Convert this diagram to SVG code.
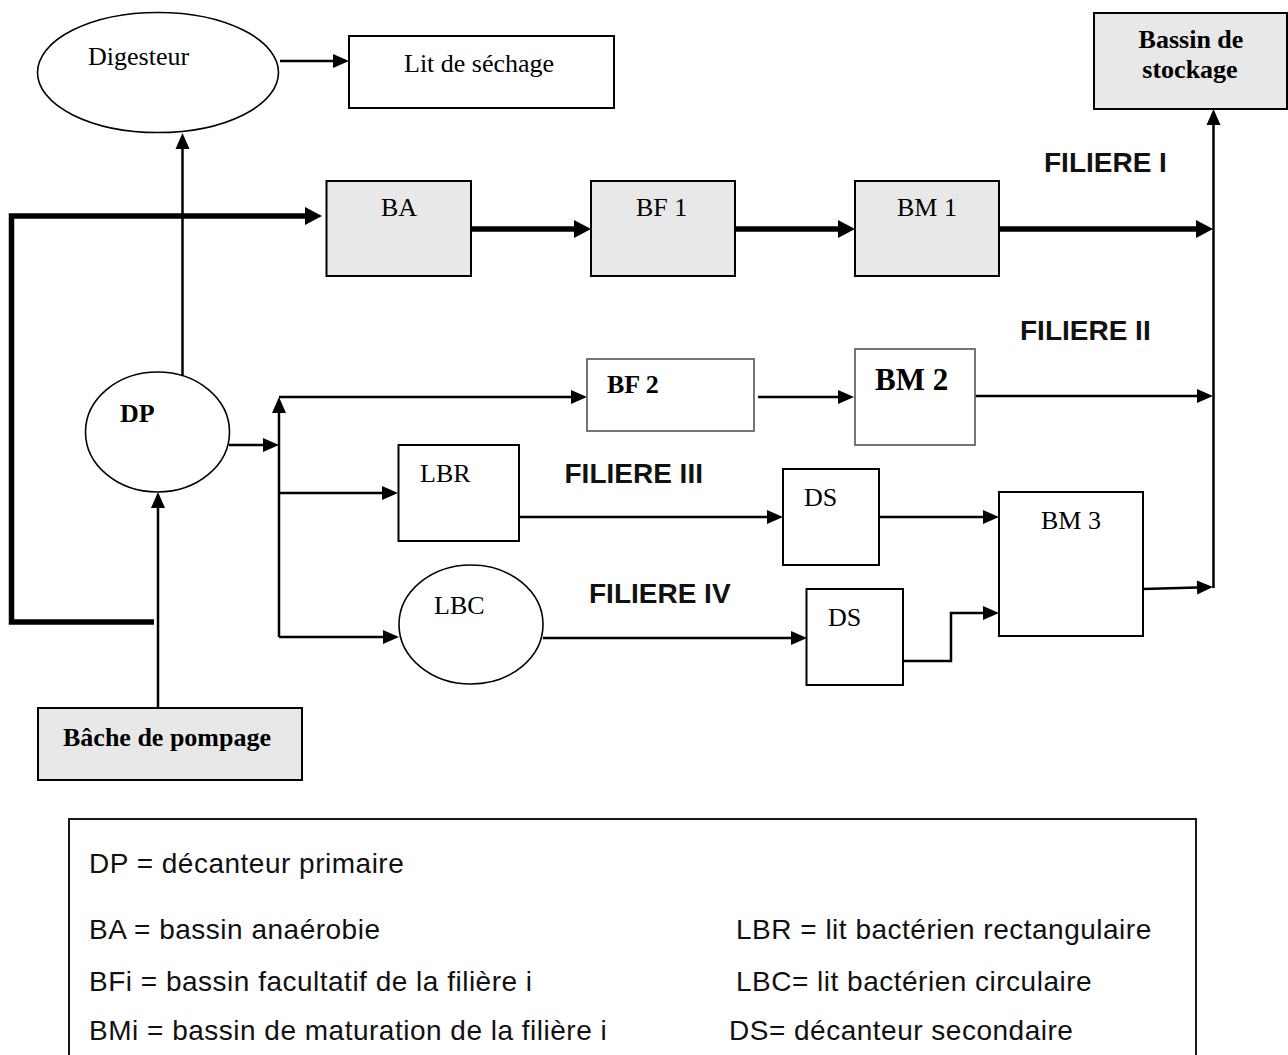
<svg xmlns="http://www.w3.org/2000/svg" width="1288" height="1055" viewBox="0 0 1288 1055">
<style>
.box{fill:#fff;stroke:#000;stroke-width:2}
.gbox{fill:#e8e8e8;stroke:#000;stroke-width:2}
.lbox{fill:#fff;stroke:#666;stroke-width:1.8}
.ell{fill:#fff;stroke:#000;stroke-width:1.6}
.t{font-family:"Liberation Serif","Times New Roman",serif;font-size:26px;fill:#000}
.tb{font-family:"Liberation Serif","Times New Roman",serif;font-size:26px;font-weight:bold;fill:#000}
.fl{font-family:"Liberation Sans",Arial,sans-serif;font-size:28px;font-weight:bold;fill:#111}
.lg{font-family:"Liberation Sans",Arial,sans-serif;font-size:28px;letter-spacing:0.5px;fill:#111}
.ca{fill:none;stroke:#000;stroke-width:2.5;marker-end:url(#arr)}
.cka{fill:none;stroke:#000;stroke-width:5.5;marker-end:url(#arrT)}
</style>
<defs>
<marker id="arr" markerUnits="userSpaceOnUse" markerWidth="17" markerHeight="16" refX="0" refY="8" orient="auto" overflow="visible">
<path d="M0,1 L16,8 L0,15 z" fill="#000"/>
</marker>
<marker id="arrT" markerUnits="userSpaceOnUse" markerWidth="18" markerHeight="20" refX="0" refY="10" orient="auto" overflow="visible">
<path d="M0,1 L17,10 L0,19 z" fill="#000"/>
</marker>
</defs>
<rect width="1288" height="1055" fill="#fff"/>

<g id="connectors">
<line class="ca" x1="280" y1="61" x2="333" y2="61"/>
<line class="ca" x1="182.5" y1="376" x2="182.5" y2="149"/>
<path class="cka" d="M154,622 L11.5,622 L11.5,216 L305,216"/>
<line class="cka" x1="471" y1="229" x2="574" y2="229"/>
<line class="cka" x1="735" y1="229" x2="838" y2="229"/>
<line class="cka" x1="999" y1="229" x2="1196" y2="229"/>
<line class="ca" x1="1213.5" y1="588" x2="1213.5" y2="125"/>
<line class="ca" x1="158" y1="708" x2="158" y2="508"/>
<line class="ca" x1="229" y1="445" x2="263" y2="445"/>
<line class="ca" x1="279" y1="637" x2="279" y2="413"/>
<line class="ca" x1="279" y1="397" x2="571" y2="397"/>
<line class="ca" x1="279" y1="493" x2="382" y2="493"/>
<line class="ca" x1="279" y1="637" x2="383" y2="637"/>
<line class="ca" x1="758" y1="397" x2="838" y2="397"/>
<line class="ca" x1="975" y1="396" x2="1197" y2="396"/>
<line class="ca" x1="519" y1="517" x2="767" y2="517"/>
<line class="ca" x1="879" y1="517" x2="983" y2="517"/>
<line class="ca" x1="543" y1="638" x2="791" y2="638"/>
<path class="ca" d="M903,661 L951,661 L951,613 L983,613"/>
<line class="ca" x1="1143" y1="589" x2="1197" y2="587.5"/>
</g>

<g id="digesteur">
<ellipse class="ell" cx="158" cy="72.5" rx="120.5" ry="60"/>
<text class="t" x="88" y="65">Digesteur</text>
</g>
<g id="lit-sechage">
<rect class="box" x="349" y="36" width="265" height="72"/>
<text class="t" x="404" y="72">Lit de séchage</text>
</g>
<g id="bassin-stockage">
<rect class="gbox" x="1094" y="13" width="193" height="96"/>
<text class="tb" x="1191" y="48" text-anchor="middle">Bassin de</text>
<text class="tb" x="1190" y="78" text-anchor="middle">stockage</text>
</g>
<g id="ba">
<rect class="gbox" x="326.5" y="181" width="144.5" height="95"/>
<text class="t" x="381" y="216">BA</text>
</g>
<g id="bf1">
<rect class="gbox" x="591" y="181" width="144" height="95"/>
<text class="t" x="636" y="216">BF 1</text>
</g>
<g id="bm1">
<rect class="gbox" x="855" y="181" width="144" height="95"/>
<text class="t" x="897" y="216">BM 1</text>
</g>
<g id="dp">
<ellipse class="ell" cx="157.5" cy="432" rx="72" ry="60"/>
<text class="tb" x="120" y="422">DP</text>
</g>
<g id="bf2">
<rect class="lbox" x="587" y="359" width="167" height="72"/>
<text class="tb" x="607" y="393">BF 2</text>
</g>
<g id="bm2">
<rect class="lbox" x="855" y="349" width="120" height="96"/>
<text class="tb" x="875" y="390" style="font-size:31px">BM 2</text>
</g>
<g id="lbr">
<rect class="box" x="398.5" y="445" width="120.5" height="96"/>
<text class="t" x="420" y="482">LBR</text>
</g>
<g id="lbc">
<ellipse class="ell" cx="471" cy="624.5" rx="72" ry="59.5"/>
<text class="t" x="434" y="614">LBC</text>
</g>
<g id="ds1">
<rect class="box" x="783" y="469" width="96" height="96"/>
<text class="t" x="804" y="506">DS</text>
</g>
<g id="ds2">
<rect class="box" x="806.5" y="589" width="96.5" height="96"/>
<text class="t" x="828" y="626">DS</text>
</g>
<g id="bm3">
<rect class="box" x="999" y="492" width="144" height="144"/>
<text class="t" x="1041" y="529">BM 3</text>
</g>
<g id="bache">
<rect class="gbox" x="38" y="708" width="264" height="72"/>
<text class="tb" x="63" y="746">Bâche de pompage</text>
</g>

<g id="labels">
<text class="fl" x="1044" y="172">FILIERE I</text>
<text class="fl" x="1020" y="340">FILIERE II</text>
<text class="fl" x="564.5" y="483">FILIERE III</text>
<text class="fl" x="589" y="603">FILIERE IV</text>
</g>

<g id="legend">
<rect x="69" y="819" width="1127" height="260" fill="#fff" stroke="#000" stroke-width="1.8"/>
<text class="lg" x="89" y="873">DP = décanteur primaire</text>
<text class="lg" x="89" y="939">BA = bassin anaérobie</text>
<text class="lg" x="89" y="991">BFi = bassin facultatif de la filière i</text>
<text class="lg" x="89" y="1040">BMi = bassin de maturation de la filière i</text>
<text class="lg" x="736" y="939">LBR = lit bactérien rectangulaire</text>
<text class="lg" x="736" y="991">LBC= lit bactérien circulaire</text>
<text class="lg" x="729" y="1040">DS= décanteur secondaire</text>
</g>
</svg>
